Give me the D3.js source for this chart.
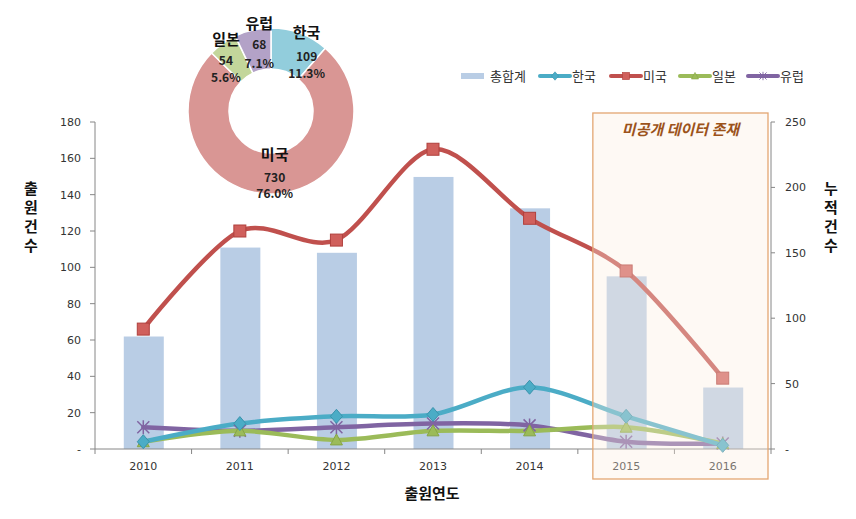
<!DOCTYPE html>
<html><head><meta charset="utf-8">
<script src="https://cdn.jsdelivr.net/npm/d3@7"></script>
<style>
body{margin:0;background:#fff;}
svg{display:block;}
text{font-family:"Noto Sans CJK KR","Noto Sans",sans-serif;}
.num{font-family:"DejaVu Sans",Verdana,sans-serif;}
</style></head>
<body>
<svg id="c" width="856" height="519"></svg>
<script>
const years = ["2010","2011","2012","2013","2014","2015","2016"];
const totals = [86,154,150,208,184,132,47];
const korea  = [4,14,18,19,34,18,2];
const usa    = [66,120,115,165,127,98,39];
const japan  = [4,10,5,10,10,12,3];
const europe = [12,10,12,14,13,4,3];
const leftTicks = [0,20,40,60,80,100,120,140,160,180];
const rightTicks = [0,50,100,150,200,250];
const pieNames = ["한국","미국","일본","유럽"];
const pieCounts = [109,730,54,68];
const hiddenYears = ["2015","2016"];

const svg = d3.select("#c");
const L=95, R=771, T=122, B=449;
const x = d3.scaleBand().domain(years).range([L,R]).padding(0);
const yL = d3.scaleLinear().domain([0,180]).range([B,T]);
const yR = d3.scaleLinear().domain([0,250]).range([B,T]);
const cx = d => x(d)+x.bandwidth()/2;

// bars
const bw = 40;
svg.append("g").selectAll("rect").data(years).join("rect")
  .attr("x", (d)=>cx(d)-bw/2+0.5).attr("width", bw)
  .attr("y", (d,i)=>yR(totals[i])).attr("height",(d,i)=>B-yR(totals[i]))
  .attr("fill","#b9cde5");

// axes
const gl = svg.append("g");
gl.append("line").attr("x1",L).attr("x2",L).attr("y1",T).attr("y2",B).attr("stroke","#868686");
gl.selectAll(".t").data(leftTicks).join("line").attr("x1",L-5).attr("x2",L)
  .attr("y1",d=>yL(d)).attr("y2",d=>yL(d)).attr("stroke","#868686");
gl.selectAll(".lab").data(leftTicks).join("text").attr("class","num")
  .attr("x",L-14).attr("y",d=>yL(d)+4).attr("text-anchor","end")
  .attr("font-size",11).attr("fill","#333").text(d=>d===0?"-":d);

const gr = svg.append("g");
gr.append("line").attr("x1",R).attr("x2",R).attr("y1",T).attr("y2",B).attr("stroke","#868686");
gr.selectAll(".t").data(rightTicks).join("line").attr("x1",R).attr("x2",R+4)
  .attr("y1",d=>yR(d)).attr("y2",d=>yR(d)).attr("stroke","#868686");
gr.selectAll(".lab").data(rightTicks).join("text").attr("class","num")
  .attr("x",R+14).attr("y",d=>yR(d)+4).attr("text-anchor","start")
  .attr("font-size",11).attr("fill","#333").text(d=>d===0?"-":d);

const gx = svg.append("g");
gx.append("line").attr("x1",L).attr("x2",R).attr("y1",B).attr("y2",B).attr("stroke","#868686");
gx.selectAll(".t").data(years.concat(["end"])).join("line")
  .attr("x1",(d,i)=>L+i*x.bandwidth()).attr("x2",(d,i)=>L+i*x.bandwidth())
  .attr("y1",B).attr("y2",B+5).attr("stroke","#868686");
gx.selectAll(".lab").data(years).join("text").attr("class","num")
  .attr("x",d=>cx(d)).attr("y",B+21).attr("text-anchor","middle")
  .attr("font-size",11).attr("fill","#333").text(d=>d);

// lines
const series = [
  {name:"한국", vals:korea, color:"#4bacc6", mark:"diamond"},
  {name:"미국", vals:usa, color:"#c0504d", mark:"square"},
  {name:"일본", vals:japan, color:"#9bbb59", mark:"triangle"},
  {name:"유럽", vals:europe, color:"#8064a2", mark:"x"}
];
const line = d3.line().x((d,i)=>cx(years[i])).y(d=>yL(d)).curve(d3.curveCardinal.tension(0.1));
function marker(g, type, color, px, py){
  if(type==="square"){
    g.append("rect").attr("x",px-6).attr("y",py-6).attr("width",12).attr("height",12)
      .attr("fill","#d0605c").attr("stroke","#b0403d").attr("stroke-width",1);
  } else if(type==="diamond"){
    g.append("path").attr("d",`M${px},${py-7}L${px+6},${py}L${px},${py+7}L${px-6},${py}Z`)
      .attr("fill","#4bacc6").attr("stroke","#3a93ac");
  } else if(type==="triangle"){
    g.append("path").attr("d",`M${px},${py-6}L${px+6},${py+5}L${px-6},${py+5}Z`)
      .attr("fill","#9bbb59").attr("stroke","#86a545");
  } else {
    g.append("path").attr("d",`M${px-6},${py-6}L${px+6},${py+6}M${px+6},${py-6}L${px-6},${py+6}M${px},${py-7}L${px},${py+7}`)
      .attr("stroke","#8064a2").attr("stroke-width",1.5).attr("fill","none");
  }
}
const drawOrder = [series[3],series[2],series[0],series[1]];
drawOrder.forEach(s=>{
  svg.append("path").datum(s.vals).attr("d",line).attr("fill","none")
    .attr("stroke",s.color).attr("stroke-width",4.5).attr("stroke-linecap","round");
});
drawOrder.forEach(s=>{
  const g = svg.append("g");
  s.vals.forEach((v,i)=>marker(g,s.mark,s.color,cx(years[i]),yL(v)));
});

// highlight box
const bx0 = x(hiddenYears[0])+15, bx1 = x(hiddenYears[hiddenYears.length-1])+x.bandwidth()-3;
svg.append("rect").attr("x",bx0).attr("y",T-9).attr("width",bx1-bx0).attr("height",B-T+39)
  .attr("fill","#fbeedf").attr("fill-opacity",0.35).attr("stroke","#e3a672").attr("stroke-width",1.3);
const bxm = (bx0+bx1)/2, bly = T+13;
svg.append("text").attr("x",bxm).attr("y",bly).attr("text-anchor","middle")
  .attr("font-size",15).attr("font-weight","bold")
  .attr("fill","#9c531b").attr("transform",`translate(${bxm},${bly}) skewX(-14) translate(${-bxm},${-bly})`)
  .text("미공개 데이터 존재");

// axis titles
const lt = svg.append("text").attr("font-size",15).attr("font-weight","bold").attr("fill","#111").attr("text-anchor","middle");
"출원건수".split("").forEach((ch,i)=>lt.append("tspan").attr("x",31).attr("y",194+i*19).text(ch));
const rt = svg.append("text").attr("font-size",15).attr("font-weight","bold").attr("fill","#111").attr("text-anchor","middle");
"누적건수".split("").forEach((ch,i)=>rt.append("tspan").attr("x",831).attr("y",194+i*19).text(ch));
svg.append("text").attr("x",432).attr("y",499).attr("text-anchor","middle").attr("font-size",15)
  .attr("font-weight","bold").attr("fill","#111").text("출원연도");

// legend
const lg = svg.append("g").attr("font-size",13).attr("fill","#333");
const legendItems = [{name:"총합계",type:"bar",color:"#b9cde5",x:461},
  {name:"한국",type:"diamond",color:"#4bacc6",x:540},
  {name:"미국",type:"square",color:"#c0504d",x:611},
  {name:"일본",type:"triangle",color:"#9bbb59",x:680},
  {name:"유럽",type:"x",color:"#8064a2",x:748}];
const ly = 76;
legendItems.forEach(it=>{
  if(it.type==="bar"){
    lg.append("rect").attr("x",it.x).attr("y",ly-3).attr("width",23).attr("height",6).attr("fill",it.color);
    lg.append("text").attr("x",it.x+29).attr("y",ly+5).text(it.name);
  } else {
    lg.append("line").attr("x1",it.x).attr("x2",it.x+30).attr("y1",ly).attr("y2",ly)
      .attr("stroke",it.color).attr("stroke-width",4).attr("stroke-linecap","round");
    const g = lg.append("g").attr("transform",`translate(${it.x+15},${ly}) scale(0.6) translate(${-(it.x+15)},${-ly})`);
    marker(g,it.type,it.color,it.x+15,ly);
    lg.append("text").attr("x",it.x+32).attr("y",ly+5).text(it.name);
  }
});

// donut
const pcx=271, pcy=111, rOut=83, rIn=42;
const total = d3.sum(pieCounts);
const pieColors = ["#92cddc","#d99694","#c3d69b","#b3a2c7"];
const pie = d3.pie().sort(null).value(d=>d)(pieCounts);
const arc = d3.arc().innerRadius(rIn).outerRadius(rOut);
const pg = svg.append("g").attr("transform",`translate(${pcx},${pcy})`);
pg.selectAll("path").data(pie).join("path").attr("d",arc)
  .attr("fill",(d,i)=>pieColors[i]).attr("stroke","#fff").attr("stroke-width",1.5);
const labArc = d3.arc().innerRadius(62).outerRadius(62);
const labAdj = [[14,3],[1,2],[-9,-1],[2,-7]];
const nameDy = [[-23,0,17],[-20,2,18],[-20,0,17],[-20,0,19]];
pie.forEach((d,i)=>{
  const c = labArc.centroid(d);
  const px = c[0]+labAdj[i][0], py = c[1]+labAdj[i][1];
  const pct = (pieCounts[i]/total*100).toFixed(1)+"%";
  pg.append("text").attr("x",px).attr("y",py+nameDy[i][0]+5).attr("text-anchor","middle")
    .attr("font-size",15).attr("font-weight","bold").attr("fill","#111").text(pieNames[i]);
  pg.append("text").attr("x",px).attr("y",py+nameDy[i][1]+5).attr("text-anchor","middle")
    .attr("font-size",12).attr("font-weight","bold").attr("fill","#222").text(pieCounts[i]);
  pg.append("text").attr("x",px).attr("y",py+nameDy[i][2]+5).attr("text-anchor","middle")
    .attr("font-size",12).attr("font-weight","bold").attr("fill","#222").text(pct);
});
</script>
</body></html>
